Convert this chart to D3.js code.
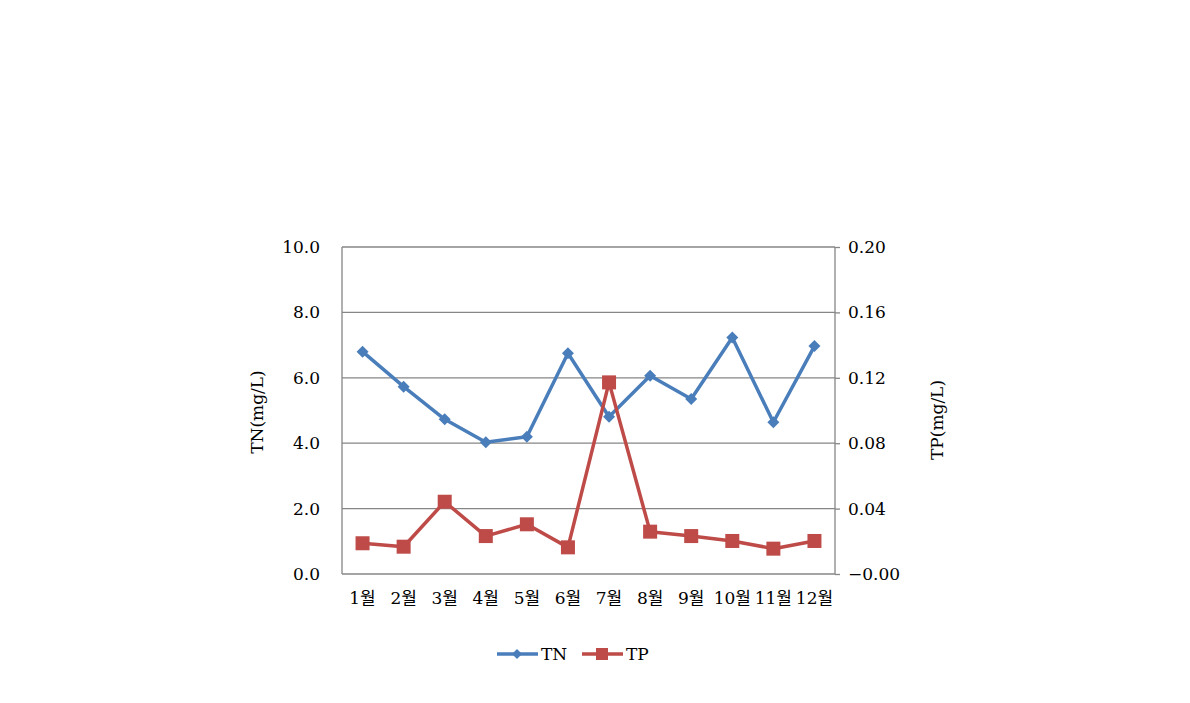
<!DOCTYPE html>
<html><head><meta charset="utf-8">
<script src="https://cdn.jsdelivr.net/npm/d3@7"></script>
<style>body{margin:0;background:#fff}svg{display:block}text{font-family:"DejaVu Serif","Liberation Serif","Noto Sans CJK KR",serif;fill:#000}</style>
</head><body><svg id="c" width="1190" height="703"></svg>
<script>
const months = ["1월","2월","3월","4월","5월","6월","7월","8월","9월","10월","11월","12월"];
const tnValues = [6.80,5.73,4.73,4.03,4.20,6.75,4.81,6.06,5.35,7.23,4.64,6.97];
const tpValues = [0.0188,0.0167,0.0442,0.0232,0.0304,0.0163,0.1172,0.0259,0.0232,0.0202,0.0155,0.0202];
const leftTicks = [0,2,4,6,8,10];
const rightTicks = [0,0.04,0.08,0.12,0.16,0.20];

const svg = d3.select("#c");
const L=342,R=835,T=247,B=574;
const x = d3.scaleBand().domain(months).range([L,R]);
const yL = d3.scaleLinear().domain([0,10]).range([B,T]);
const yR = d3.scaleLinear().domain([0,0.2]).range([B,T]);
const grid="#868686", blue="#4a7ebb", red="#be4b48";
const FS="17px";

svg.append("g").selectAll("line").data(leftTicks.filter(d=>d>0)).join("line")
 .attr("x1",L).attr("x2",R).attr("y1",d=>yL(d)).attr("y2",d=>yL(d))
 .attr("stroke",grid).attr("stroke-width",1.3);
svg.append("line").attr("x1",L).attr("x2",L).attr("y1",T).attr("y2",B).attr("stroke",grid).attr("stroke-width",1.3);
svg.append("line").attr("x1",R).attr("x2",R).attr("y1",T).attr("y2",B).attr("stroke",grid).attr("stroke-width",1.3);
svg.append("line").attr("x1",L).attr("x2",R).attr("y1",B).attr("y2",B).attr("stroke",grid).attr("stroke-width",1.3);

const la = svg.append("g").attr("transform",`translate(${L},0)`)
 .call(d3.axisLeft(yL).tickValues(leftTicks).tickFormat(d3.format(".1f")).tickSize(0).tickPadding(22));
la.select(".domain").remove();
la.selectAll("text").style("font-size",FS);
const ra = svg.append("g").attr("transform",`translate(${R},0)`)
 .call(d3.axisRight(yR).tickValues(rightTicks).tickFormat(d=>d===0?"\u22120.00":d3.format(".2f")(d)).tickSize(5).tickPadding(8));
ra.select(".domain").remove();
ra.selectAll("line").attr("stroke",grid).attr("stroke-width",1.3);
ra.selectAll("text").style("font-size",FS);
const ba = svg.append("g").attr("transform",`translate(0,${B})`)
 .call(d3.axisBottom(x).tickSize(0).tickPadding(18));
ba.select(".domain").remove();
ba.selectAll("text").style("font-size",FS);

svg.append("text").attr("transform","translate(263,412) rotate(-90)").attr("text-anchor","middle").style("font-size",FS).text("TN(mg/L)");
svg.append("text").attr("transform","translate(943,420) rotate(-90)").attr("text-anchor","middle").style("font-size",FS).text("TP(mg/L)");

const cx = d=>x(d)+x.bandwidth()/2;
svg.append("path").datum(months.map((m,i)=>[cx(m),yL(tnValues[i])]))
 .attr("d",d3.line()).attr("fill","none").attr("stroke",blue).attr("stroke-width",3.5).attr("stroke-linejoin","round");
svg.append("g").selectAll("path").data(months).join("path")
 .attr("d",d3.symbol(d3.symbolSquare,72)())
 .attr("transform",(m,i)=>`translate(${cx(m)},${yL(tnValues[i])}) rotate(45)`).attr("fill",blue);
svg.append("path").datum(months.map((m,i)=>[cx(m),yR(tpValues[i])]))
 .attr("d",d3.line()).attr("fill","none").attr("stroke",red).attr("stroke-width",3.5).attr("stroke-linejoin","round");
svg.append("g").selectAll("rect").data(months).join("rect")
 .attr("x",m=>cx(m)-7).attr("y",(m,i)=>yR(tpValues[i])-7).attr("width",14).attr("height",14).attr("fill",red);

const lg = svg.append("g");
lg.append("line").attr("x1",497).attr("x2",538).attr("y1",654).attr("y2",654).attr("stroke",blue).attr("stroke-width",3.5);
lg.append("path").attr("d",d3.symbol(d3.symbolSquare,50)()).attr("transform","translate(517,654) rotate(45)").attr("fill",blue);
lg.append("text").attr("x",541).attr("y",660).style("font-size",FS).text("TN");
lg.append("line").attr("x1",582).attr("x2",623).attr("y1",654).attr("y2",654).attr("stroke",red).attr("stroke-width",3.5);
lg.append("rect").attr("x",596).attr("y",648).attr("width",12).attr("height",12).attr("fill",red);
lg.append("text").attr("x",626).attr("y",660).style("font-size",FS).text("TP");
</script></body></html>
